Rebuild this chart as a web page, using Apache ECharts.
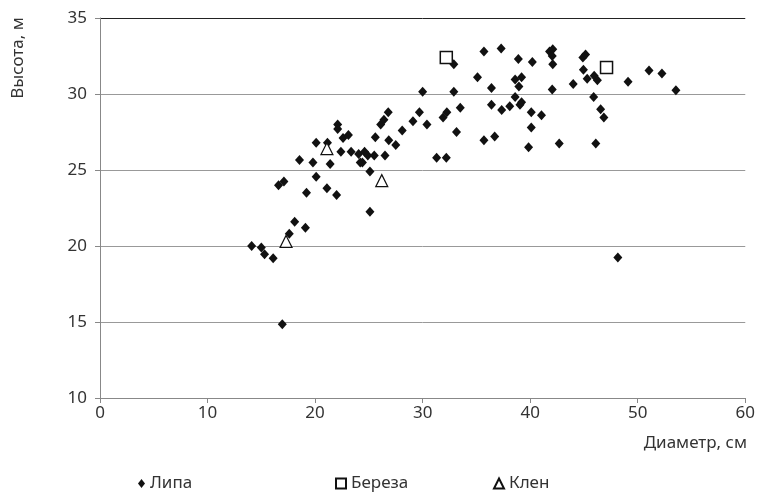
<!DOCTYPE html>
<html><head><meta charset="utf-8">
<script src="https://cdn.jsdelivr.net/npm/echarts@6/dist/echarts.min.js"></script>
<style>html,body{margin:0;padding:0;background:#fff}#c{width:758px;height:495px}</style>
</head><body><div id="c"></div>
<script>
const xTicks = [0, 10, 20, 30, 40, 50, 60];
const yTicks = [10, 15, 20, 25, 30, 35];
const seriesNames = ['Липа', 'Береза', 'Клен'];
const lipa = [
 [14.1,20.0],[15.0,19.9],[15.3,19.45],[16.1,19.2],[16.95,14.85],[17.6,20.8],[18.1,21.6],[19.1,21.2],
 [16.6,24.0],[17.1,24.25],[18.55,25.65],[19.2,23.5],[19.8,25.5],[20.1,24.55],[20.1,26.8],[21.15,26.8],
 [21.1,23.8],[21.4,25.4],[22.0,23.35],[22.1,28.0],[22.1,27.7],[22.4,26.2],[22.6,27.1],[23.1,27.3],
 [23.35,26.2],[24.05,26.05],[24.2,25.5],[24.4,25.5],[24.6,26.2],[24.9,25.95],[25.1,24.9],[25.1,22.25],
 [25.6,27.15],[25.5,25.95],[26.1,28.0],[26.4,28.3],[26.5,25.95],[26.85,26.95],[26.8,28.8],[27.5,26.65],
 [28.1,27.6],[29.1,28.2],[29.7,28.8],[30.0,30.15],[30.4,28.0],[31.3,25.8],[32.2,25.8],[31.9,28.45],
 [32.25,28.8],[32.9,30.15],[33.15,27.5],[33.5,29.1],[32.9,31.95],[35.1,31.1],[35.7,32.8],[36.4,30.4],
 [35.7,26.95],[36.7,27.2],[36.4,29.3],[37.3,33.0],[37.35,28.95],[38.1,29.2],[38.6,30.95],[38.6,29.8],
 [38.9,32.3],[38.95,30.5],[39.2,31.1],[39.2,29.45],[39.05,29.3],[40.1,28.8],[40.2,32.1],[40.1,27.8],
 [39.85,26.5],[41.05,28.6],[41.8,32.8],[42.1,32.95],[42.05,32.5],[42.1,31.95],[42.05,30.3],[42.7,26.75],
 [44.0,30.65],[44.95,31.6],[44.9,32.4],[45.15,32.6],[45.3,31.0],[45.95,31.2],[46.25,30.9],[45.9,29.8],
 [46.1,26.75],[46.55,29.0],[46.85,28.45],[49.1,30.8],[51.05,31.55],[52.25,31.35],[53.55,30.25],[48.15,19.25]
];
const bereza = [[32.2,32.4],[47.1,31.75]];
const klen = [[17.3,20.3],[21.1,26.4],[26.2,24.3]];

const FONT = 'Noto Sans';
const FS = 17;
const chart = echarts.init(document.getElementById('c'), null, {renderer:'canvas'});
const legendBase = {
  bottom: -2, itemWidth: 10, itemHeight: 10, itemGap: 0,
  textStyle: {fontFamily: FONT, fontSize: FS, color: '#333'}
};
chart.setOption({
  animation: false,
  backgroundColor: '#fff',
  grid: {left: 100, right: 11, top: 18, bottom: 97},
  xAxis: {
    type: 'value', min: xTicks[0], max: xTicks[xTicks.length-1], interval: 10,
    axisLine: {lineStyle: {color: '#888'}},
    axisTick: {show: true, length: 5, lineStyle: {color: '#888'}},
    axisLabel: {fontFamily: FONT, fontSize: FS, color: '#333', margin: 7},
    splitLine: {show: false}
  },
  yAxis: {
    type: 'value', min: yTicks[0], max: yTicks[yTicks.length-1], interval: 5,
    axisLine: {show: true, lineStyle: {color: '#888'}},
    axisTick: {show: true, length: 5, lineStyle: {color: '#888'}},
    axisLabel: {fontFamily: FONT, fontSize: FS, color: '#333', margin: 13},
    splitLine: {show: true, lineStyle: {color: ['#999','#999','#999','#999','#999','#222'], width: 1}}
  },
  legend: [
    Object.assign({}, legendBase, {left: 133, data: [{name: seriesNames[0], icon: 'diamond', itemStyle:{color:'#111'}}], itemWidth: 7, itemHeight: 9}),
    Object.assign({}, legendBase, {left: 330, data: [{name: seriesNames[1], icon: 'rect'}]}),
    Object.assign({}, legendBase, {left: 488, data: [{name: seriesNames[2], icon: 'triangle'}]})
  ],
  graphic: [
    {type: 'text', x: 18, y: 58, rotation: Math.PI/2,
     style: {text: 'Высота, м', fontFamily: FONT, fontSize: FS, fill: '#333', align: 'center', verticalAlign: 'middle'}},
    {type: 'text', right: 11, top: 435,
     style: {text: 'Диаметр, см', fontFamily: FONT, fontSize: FS, fill: '#333'}}
  ],
  series: [
    {name: seriesNames[0], type: 'scatter', data: lipa, symbol: 'diamond', symbolSize: [9, 10],
     itemStyle: {color: '#111', opacity: 1}},
    {name: seriesNames[1], type: 'scatter', data: bereza, symbol: 'rect', symbolSize: 12,
     itemStyle: {color: '#fff', borderColor: '#111', borderWidth: 1.5, opacity: 1}},
    {name: seriesNames[2], type: 'scatter', data: klen, symbol: 'triangle', symbolSize: 12,
     itemStyle: {color: '#fff', borderColor: '#111', borderWidth: 1.2, opacity: 1}}
  ]
});
</script></body></html>
